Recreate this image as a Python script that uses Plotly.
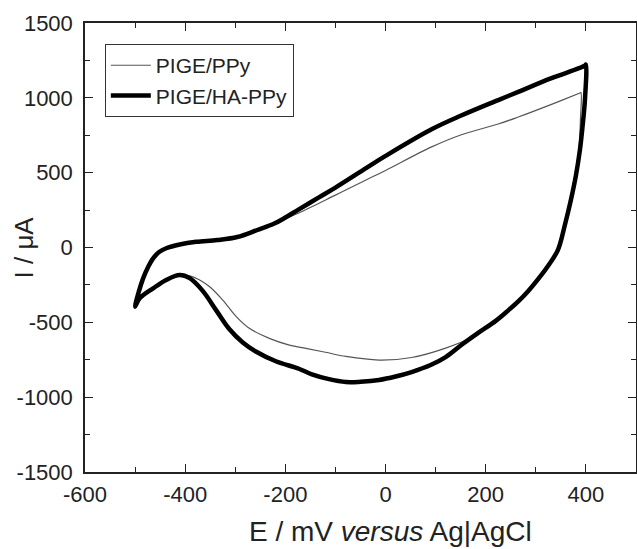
import plotly.graph_objects as go

# PIGE/PPy (thin) cyclic voltammogram: potential (mV) and current (uA)
ppy_E = [-500, -493, -484, -474, -464, -452, -438, -411, -378, -336, -296, -256, -222, -200,
         -173, -100, -39, 0, 92, 150, 225, 265, 330, 388, 390,
         389, 386, 378, 368, 356, 342, 323, 303, 283, 263, 243, 218, 185, 169, 120, 52,
         -13, -79, -120, -159, -192, -232, -272, -298, -325, -351, -372, -391, -411,
         -438, -464, -491, -500]
ppy_I = [-396, -300, -206, -130, -72, -30, -5, 20, 38, 50, 70, 117, 160, 192,
         231, 350, 451, 515, 672, 752, 825, 872, 955, 1032, 1035,
         850, 651, 480, 317, 150, -17, -120, -210, -290, -360, -420, -490, -565, -605, -672, -735,
         -752, -728, -700, -674, -652, -607, -540, -462, -351, -262, -215, -190, -184,
         -217, -273, -340, -396]

# PIGE/HA-PPy (thick) cyclic voltammogram
ha_E = [-500, -493, -484, -474, -464, -452, -438, -411, -378, -336, -296, -256, -222, -200,
        -173, -133, -100, -39, 0, 92, 150, 225, 265, 330, 398, 400,
        398, 393, 388, 380, 370, 358, 344, 325, 305, 285, 265, 245, 220, 185, 150, 120,
        90, 52, 20, -13, -50, -79, -115, -147, -173, -219, -259, -285, -312, -338,
        -365, -391, -411, -438, -464, -491, -500]
ha_I = [-396, -300, -206, -130, -72, -30, -5, 20, 38, 50, 70, 117, 160, 200,
        255, 335, 400, 530, 612, 790, 880, 985, 1040, 1130, 1215, 1222,
        985, 800, 651, 480, 317, 150, -17, -120, -210, -290, -360, -420, -490, -571, -655, -732,
        -785, -832, -862, -885, -897, -899, -878, -848, -810, -760, -695, -635, -545, -420,
        -290, -205, -184, -217, -273, -340, -396]

x_ticks = [-600, -400, -200, 0, 200, 400]
x_labels = ["-600", "-400", "-200", "0", "200", "400"]
y_ticks = [-1500, -1000, -500, 0, 500, 1000, 1500]
y_labels = ["-1500", "-1000", "-500", "0", "500", "1000", "1500"]

FONT = "Liberation Sans, Arial, sans-serif"
INK = "#222222"

fig = go.Figure()
fig.add_trace(go.Scatter(x=ppy_E, y=ppy_I, mode="lines", name="PIGE/PPy",
                         line=dict(color="#555555", width=1.2, shape="spline", smoothing=1.0)))
fig.add_trace(go.Scatter(x=ha_E, y=ha_I, mode="lines", name="PIGE/HA-PPy",
                         line=dict(color="black", width=4.5, shape="spline", smoothing=1.0)))

axis_common = dict(showgrid=False, zeroline=False, showline=True, linecolor=INK,
                   linewidth=1.5, mirror="allticks", ticks="inside", ticklen=8, tickwidth=1.3,
                   tickcolor=INK, tickfont=dict(family=FONT, size=22, color=INK),
                   automargin=False)

fig.update_xaxes(range=[-600, 500], tickvals=x_ticks, ticktext=x_labels,
                 ticklabelstandoff=2,
                 minor=dict(dtick=100, ticks="inside", ticklen=5, tickcolor=INK, tickwidth=1.2),
                 **axis_common)
fig.update_yaxes(range=[-1500, 1500], tickvals=y_ticks, ticktext=y_labels,
                 ticklabelstandoff=6,
                 minor=dict(dtick=250, ticks="inside", ticklen=5, tickcolor=INK, tickwidth=1.2),
                 **axis_common)

# axis titles placed as annotations so they sit where the original's do
fig.add_annotation(text="E / mV <i>versus</i> Ag|AgCl", xref="paper", yref="paper",
                   x=0.555, y=-0.1336, xanchor="center", yanchor="middle", showarrow=False,
                   font=dict(family=FONT, size=28, color=INK))
fig.add_annotation(text="I / μA", xref="paper", yref="paper", textangle=-90,
                   x=-0.1125, y=0.5, xanchor="center", yanchor="middle", showarrow=False,
                   font=dict(family=FONT, size=26, color=INK))

fig.update_layout(
    width=637, height=549,
    margin=dict(l=85, r=1, t=23, b=77),
    paper_bgcolor="white", plot_bgcolor="white",
    showlegend=True,
    legend=dict(x=0.036, y=0.953, xanchor="left", yanchor="top",
                bgcolor="white", bordercolor="#333333", borderwidth=1,
                font=dict(family=FONT, size=21, color=INK),
                tracegroupgap=0, itemwidth=40),
)

fig.write_html("out.html", config={"displayModeBar": False},
               post_script="document.body.style.margin='0';document.body.style.overflow='hidden';")
